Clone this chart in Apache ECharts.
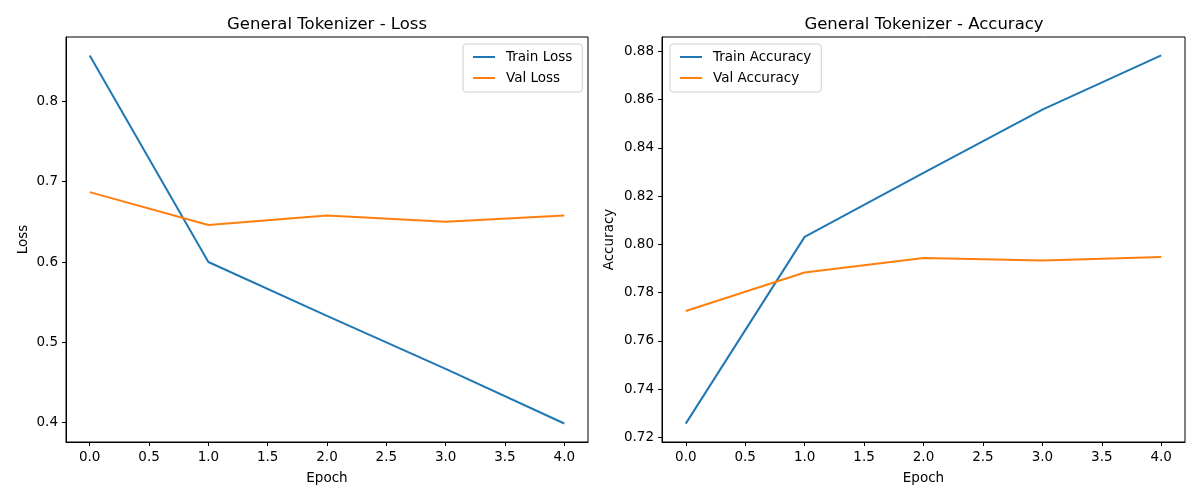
<!DOCTYPE html>
<html>
<head>
<meta charset="utf-8">
<script src="https://cdn.jsdelivr.net/npm/echarts@6/dist/echarts.min.js"></script>
<style>html,body{margin:0;padding:0;background:#fff;}#c{width:1200px;height:500px;}</style>
</head>
<body>
<div id="c"></div>
<script>
const epochs = [0, 1, 2, 3, 4];
const trainLoss = [0.857, 0.600, 0.533, 0.467, 0.399];
const valLoss = [0.687, 0.646, 0.658, 0.650, 0.658];
const trainAcc = [0.7257, 0.8031, 0.8296, 0.8558, 0.8783];
const valAcc = [0.7724, 0.7883, 0.7943, 0.7933, 0.7948];
const xTicks = [0, 0.5, 1, 1.5, 2, 2.5, 3, 3.5, 4];
const lossTicks = [0.4, 0.5, 0.6, 0.7, 0.8];
const accTicks = [0.72, 0.74, 0.76, 0.78, 0.80, 0.82, 0.84, 0.86, 0.88];

const FONT = 'DejaVu Sans';
const pair = (ys) => epochs.map((e, i) => [e, ys[i]]);

function xAxis(gi) {
  return {
    type: 'value', gridIndex: gi, min: -0.2, max: 4.2,
    name: 'Epoch', nameLocation: 'middle', nameGap: 29,
    nameTextStyle: { fontFamily: FONT, fontSize: 13.5, color: '#000' },
    axisLine: { show: true, onZero: false, lineStyle: { color: '#000', width: 1 } },
    axisTick: { show: true, inside: false, length: 4, customValues: xTicks, lineStyle: { color: '#000' } },
    axisLabel: { customValues: xTicks, margin: 8, fontFamily: FONT, fontSize: 13.5, color: '#000', formatter: v => v.toFixed(1) },
    splitLine: { show: false }
  };
}
function yAxis(gi, name, min, max, ticks, dec, gap) {
  return {
    type: 'value', gridIndex: gi, min: min, max: max,
    name: name, nameLocation: 'middle', nameGap: gap, nameRotate: 90,
    nameTextStyle: { fontFamily: FONT, fontSize: 13.5, color: '#000' },
    axisLine: { show: true, onZero: false, lineStyle: { color: '#000', width: 1 } },
    axisTick: { show: true, inside: false, length: 4, customValues: ticks, lineStyle: { color: '#000' } },
    axisLabel: { customValues: ticks, margin: 8, fontFamily: FONT, fontSize: 13.5, color: '#000', formatter: v => v.toFixed(dec) },
    splitLine: { show: false }
  };
}
function line(name, data, color, gi) {
  return {
    type: 'line', name: name, xAxisIndex: gi, yAxisIndex: gi, data: pair(data),
    symbol: 'none', showSymbol: false, animation: false,
    lineStyle: { color: color, width: 2 }, itemStyle: { color: color }
  };
}
function legend(names, left) {
  return {
    data: names.map(n => ({ name: n, icon: 'rect' })), orient: 'vertical', left: left, top: 44,
    backgroundColor: '#fff', borderColor: '#d0d0d0', borderWidth: 1, borderRadius: 3,
    padding: [6, 10, 7, 10], itemGap: 7, itemWidth: 22, itemHeight: 2,
    textStyle: { fontFamily: FONT, fontSize: 13.5, color: '#000', padding: [0, 0, 0, 6] },
    selectedMode: false
  };
}

const chart = echarts.init(document.getElementById('c'), null, { renderer: 'canvas' });
chart.setOption({
  animation: false,
  backgroundColor: '#fff',
  title: [
    { text: 'General Tokenizer - Loss', left: 327, top: 16, padding: 0, textAlign: 'center',
      textStyle: { fontFamily: FONT, fontSize: 16.5, fontWeight: 'normal', color: '#000' } },
    { text: 'General Tokenizer - Accuracy', left: 924, top: 16, padding: 0, textAlign: 'center',
      textStyle: { fontFamily: FONT, fontSize: 16.5, fontWeight: 'normal', color: '#000' } }
  ],
  grid: [
    { left: 66, top: 37, width: 522, height: 405, show: true, borderColor: '#000', borderWidth: 1, backgroundColor: 'transparent' },
    { left: 662, top: 37, width: 523, height: 405, show: true, borderColor: '#000', borderWidth: 1, backgroundColor: 'transparent' }
  ],
  xAxis: [xAxis(0), xAxis(1)],
  yAxis: [
    yAxis(0, 'Loss', 0.376, 0.880, lossTicks, 1, 36),
    yAxis(1, 'Accuracy', 0.7181, 0.8859, accTicks, 2, 46)
  ],
  legend: [
    legend(['Train Loss', 'Val Loss'], 463),
    legend(['Train Accuracy', 'Val Accuracy'], 670)
  ],
  series: [
    line('Train Loss', trainLoss, '#1f77b4', 0),
    line('Val Loss', valLoss, '#ff7f0e', 0),
    line('Train Accuracy', trainAcc, '#1f77b4', 1),
    line('Val Accuracy', valAcc, '#ff7f0e', 1)
  ]
});
</script>
</body>
</html>
